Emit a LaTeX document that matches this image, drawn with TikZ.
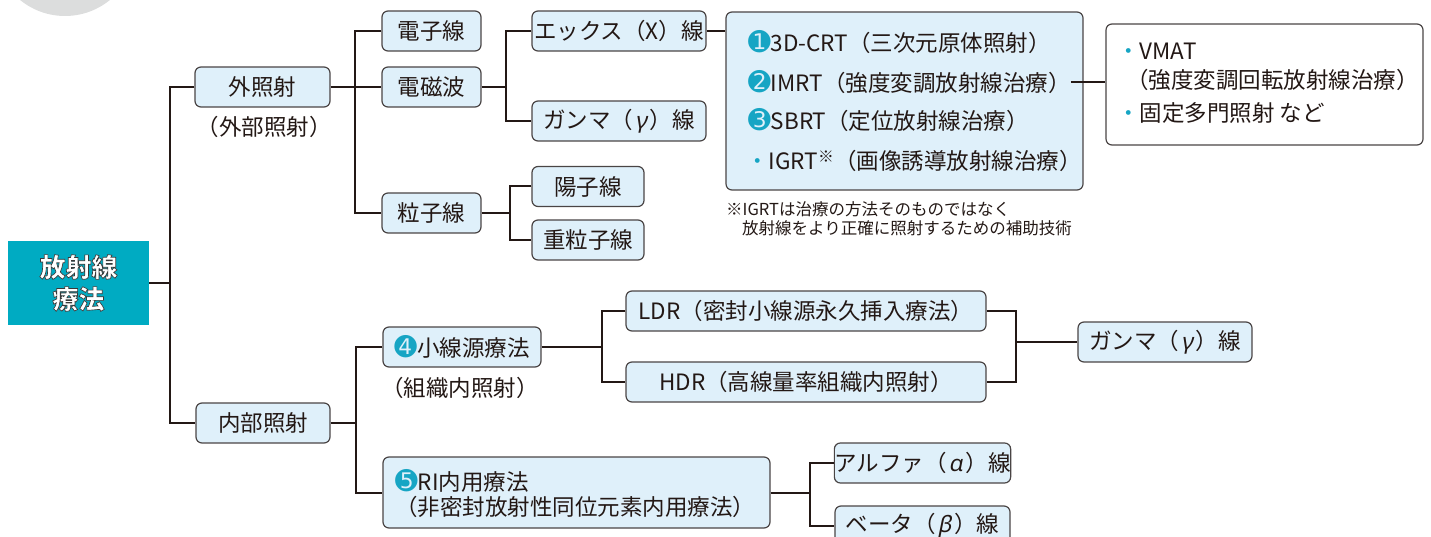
\documentclass[tikz,border=0pt]{standalone}
\usepackage{fontspec}
\setmainfont{Noto Sans CJK JP}
\newfontfamily\dv{DejaVu Sans}
\newfontfamily\grk[FakeSlant=0.2]{Noto Sans}
\newfontfamily\rootfont[FakeBold=2.5]{Noto Sans CJK JP}
\definecolor{tealroot}{HTML}{00ABC2}
\definecolor{lineK}{HTML}{231815}
\definecolor{boxfill}{HTML}{DFF0FA}
\definecolor{boxline}{HTML}{4A4545}
\definecolor{circgray}{HTML}{DCDDDD}
\definecolor{numcol}{HTML}{16A5C4}
\newcommand{\numc}[1]{{\dv\fontsize{27}{27}\selectfont\color{numcol}#1}}
\newcommand{\tdot}{{\color{numcol}・}}
\newcommand{\gk}[1]{\hspace{2pt}{\grk #1}\hspace{3pt}}
\newcommand{\outl}[1]{\special{pdf:bcolor [1 1 1] [0.22 0.22 0.22]}#1\special{pdf:ecolor}}
\tikzset{
  bx/.style={draw=boxline, line width=1.2pt, fill=boxfill, rounded corners=6pt,
    inner sep=0pt, minimum height=40pt, font=\fontsize{22.5}{26}\selectfont, text=lineK},
  wbx/.style={bx, fill=white},
  conn/.style={draw=lineK, line width=2pt},
  lbl/.style={inner sep=0pt, font=\fontsize{22.5}{26}\selectfont, text=lineK},
  note/.style={inner sep=0pt, font=\fontsize{16.5}{20}\selectfont, text=lineK},
  rootbox/.style={fill=tealroot, inner sep=0pt, minimum width=141pt, minimum height=84pt,
    text=white, align=center, font=\rootfont\bfseries\fontsize{26}{32}\selectfont},
}
\begin{document}
\begin{tikzpicture}[x=1pt,y=-1pt]
\useasboundingbox (0,0) rectangle (1431,537);
\clip (0,0) rectangle (1431,537);
\fill[circgray] (65,-55) circle[radius=71pt];

% root
\node[rootbox] (root) at (78.5,283) {\outl{放射線}\\\outl{療法}};

% level 1
\node[bx, minimum width=135pt] (ext) at (262.5,87) {外照射};
\node[lbl] (extsub) at (264,127) {（外部照射）};
\node[bx, minimum width=134pt] (int) at (263,423) {内部照射};

% external branch
\node[bx, minimum width=99pt] (e1) at (431.5,31) {電子線};
\node[bx, minimum width=99pt] (em) at (431.5,87) {電磁波};
\node[bx, minimum width=99pt] (pt) at (431.5,213) {粒子線};
\node[bx, minimum width=174pt] (xr) at (619,31) {エックス（X）線};
\node[bx, minimum width=174pt] (gr) at (619,121) {ガンマ（\gk{γ}）線};
\node[bx, minimum width=112pt] (pr) at (588,186.5) {陽子線};
\node[bx, minimum width=112pt] (hv) at (588,240) {重粒子線};

% CRT box
\node[bx, minimum width=357pt, minimum height=178pt] (crt) at (904.5,101) {};
\node[lbl, anchor=west] (c1) at (748,42) {\numc{➊}3D-CRT（三次元原体照射）};
\node[lbl, anchor=west] (c2) at (748,82) {\numc{➋}IMRT（強度変調放射線治療）};
\node[lbl, anchor=west] (c3) at (748,120) {\numc{➌}SBRT（定位放射線治療）};
\node[lbl, anchor=west] (c4) at (746,161) {\tdot IGRT\textsuperscript{※}（画像誘導放射線治療）};
\node[note, anchor=west] (n1) at (726,209) {※IGRTは治療の方法そのものではなく};
\node[note, anchor=west] (n2) at (742,228) {放射線をより正確に照射するための補助技術};

% VMAT box
\node[wbx, minimum width=317pt, minimum height=121pt] (vm) at (1264.5,84.5) {};
\node[lbl, anchor=west] (v1) at (1117,51) {\tdot VMAT};
\node[lbl, anchor=west] (v2) at (1126,80) {（強度変調回転放射線治療）};
\node[lbl, anchor=west] (v3) at (1117,113) {\tdot 固定多門照射 など};

% internal branch
\node[bx, minimum width=158pt] (br) at (462,347) {\numc{➍}小線源療法};
\node[lbl] (brsub) at (460,388) {（組織内照射）};
\node[bx, minimum width=387pt, minimum height=71pt] (ri) at (576.5,492.5) {};
\node[lbl, anchor=west] (ri1) at (395,481) {\numc{➎}RI内用療法};
\node[lbl, anchor=west] (ri2) at (395,507) {（非密封放射性同位元素内用療法）};
\node[bx, minimum width=360pt] (ldr) at (806,311) {LDR（密封小線源永久挿入療法）};
\node[bx, minimum width=360pt] (hdr) at (806,382) {HDR（高線量率組織内照射）};
\node[bx, minimum width=174pt] (g2) at (1165,342) {ガンマ（\gk{γ}）線};
\node[bx, minimum width=175pt] (al) at (922.5,463) {アルファ（\gk{α}）線};
\node[bx, minimum width=175pt] (be) at (922.5,526) {ベータ（\gk{β}）線};

% junctions
\coordinate (j1) at (170,283);
\coordinate (j2) at (355,87);
\coordinate (j3) at (506,87);
\coordinate (j4) at (510,213);
\coordinate (j5) at (356,423);
\coordinate (j6) at (602,347);
\coordinate (j7) at (1016,342);
\coordinate (j8) at (810,492.5);

% connectors
\draw[conn] (root.east) -- (j1);
\draw[conn] (ext.west) -| (j1) |- (int.west);
\draw[conn] (ext.east) -- (em.west);
\draw[conn] (e1.west) -| (j2) |- (pt.west);
\draw[conn] (em.east) -- (j3);
\draw[conn] (xr.west) -| (j3) |- (gr.west);
\draw[conn] (pt.east) -- (j4);
\draw[conn] (pr.west) -| (j4) |- (hv.west);
\draw[conn] (xr.east) -- (xr.east -| crt.west);
\draw[conn] (c2.east) -- (c2.east -| vm.west);
\draw[conn] (int.east) -- (j5);
\draw[conn] (br.west) -| (j5) |- (ri.west);
\draw[conn] (br.east) -- (j6);
\draw[conn] (ldr.west) -| (j6) |- (hdr.west);
\draw[conn] (ldr.east) -| (j7) |- (hdr.east);
\draw[conn] (j7) -- (g2.west);
\draw[conn] (ri.east) -- (j8);
\draw[conn] (al.west) -| (j8) |- (be.west);
\end{tikzpicture}
\end{document}
